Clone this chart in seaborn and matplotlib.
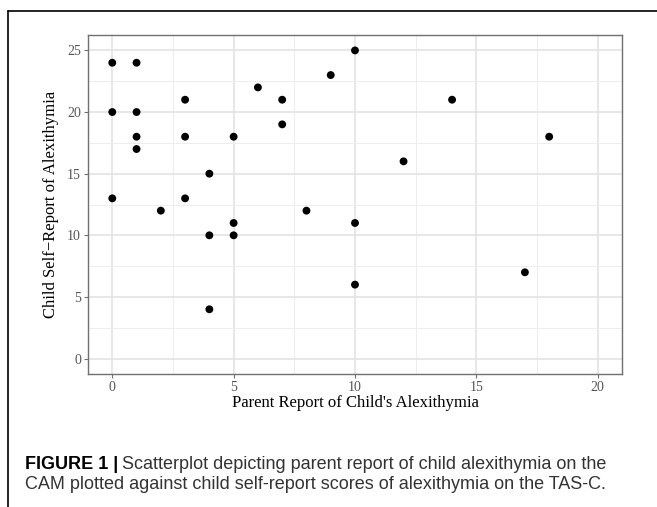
import numpy as np
import pandas as pd
import matplotlib
matplotlib.use("Agg")
import matplotlib.pyplot as plt
from matplotlib.lines import Line2D
from matplotlib.ticker import MultipleLocator
import seaborn as sns

# ── Data ──────────────────────────────────────────────────────────────────────
parent_report = [0, 0, 0, 1, 1, 1, 1, 2, 3, 3, 3, 4, 4, 4, 5, 5, 5,
                 6, 7, 7, 8, 9, 10, 10, 10, 12, 14, 17, 18]
child_report  = [24, 20, 13, 24, 20, 18, 17, 12, 21, 18, 13, 15, 10, 4, 18, 11, 10,
                 22, 21, 19, 12, 23, 25, 11, 6, 16, 21, 7, 18]
x_ticks = [0, 5, 10, 15, 20]
y_ticks = [0, 5, 10, 15, 20, 25]

df = pd.DataFrame({"parent": parent_report, "child": child_report})

# ── Style ─────────────────────────────────────────────────────────────────────
sns.set_style("white")
plt.rcParams["font.family"] = ["Liberation Serif", "DejaVu Serif"]

fig = plt.figure(figsize=(6.57, 5.07), dpi=100)
ax = fig.add_axes([88/657, 1 - 374/507, (622 - 88)/657, (374 - 35)/507])

sns.scatterplot(data=df, x="parent", y="child", color="black", s=32,
                edgecolor="none", ax=ax, zorder=3)

ax.set_xlim(-1, 21)
ax.set_ylim(-1.25, 26.25)
ax.set_xticks(x_ticks)
ax.set_yticks(y_ticks)
ax.xaxis.set_minor_locator(MultipleLocator(2.5))
ax.yaxis.set_minor_locator(MultipleLocator(2.5))
ax.grid(which="major", color="#e3e3e3", linewidth=1.2)
ax.grid(which="minor", color="#ededed", linewidth=0.7)
ax.set_axisbelow(True)
for sp in ax.spines.values():
    sp.set_color("#707070")
    sp.set_linewidth(1.0)
ax.tick_params(which="major", direction="out", length=3, width=0.8,
               color="#707070", labelcolor="#555555", labelsize=10, pad=2,
               bottom=True, left=True)
ax.tick_params(which="minor", length=0)

ax.set_xlabel("Parent Report of Child's Alexithymia", fontsize=12, color="black", labelpad=1)
ax.set_ylabel("Child Self\u2212Report of Alexithymia", fontsize=12, color="black", labelpad=6)

# ── Frame & caption ───────────────────────────────────────────────────────────
fig.add_artist(Line2D([8/657, 1.0], [1 - 11/507, 1 - 11/507], color="black",
                      linewidth=1.2, transform=fig.transFigure))
fig.add_artist(Line2D([8/657, 8/657], [1 - 11/507, 0.0], color="black",
                      linewidth=1.2, transform=fig.transFigure))

cap_font = ["Liberation Sans", "DejaVu Sans"]
cap_size = 13
cap_x = 25/657
t1 = fig.text(cap_x, 1 - 469/507, "FIGURE 1 |", fontsize=cap_size, fontweight="bold",
              family=cap_font, color="black", va="baseline")
fig.canvas.draw()
bb = t1.get_window_extent(renderer=fig.canvas.get_renderer())
fig.text(bb.x1 / 657 + 4/657, 1 - 469/507,
         "Scatterplot depicting parent report of child alexithymia on the",
         fontsize=cap_size, family=cap_font, color="#333333", va="baseline")
fig.text(cap_x, 1 - 489/507,
         "CAM plotted against child self-report scores of alexithymia on the TAS-C.",
         fontsize=cap_size, family=cap_font, color="#333333", va="baseline")

fig.savefig("out.png", dpi=100)
